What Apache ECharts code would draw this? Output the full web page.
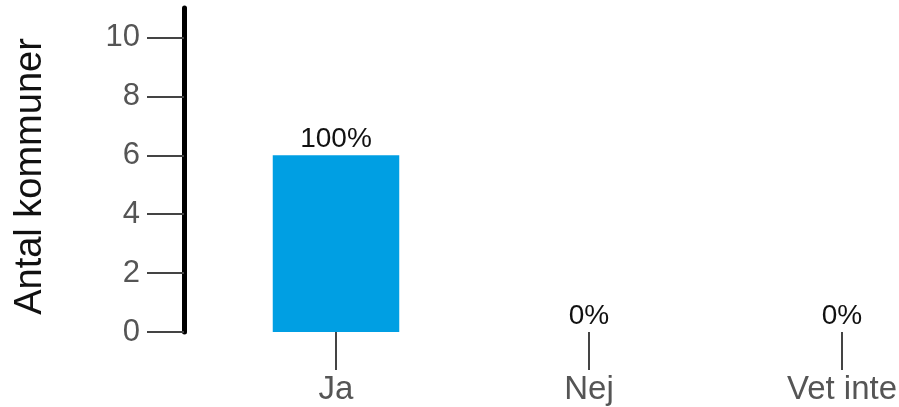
<!DOCTYPE html>
<html>
<head>
<meta charset="utf-8">
<script src="https://cdn.jsdelivr.net/npm/echarts@6/dist/echarts.min.js"></script>
<style>html,body{margin:0;padding:0;background:#fff}#c{width:899px;height:407px}</style>
</head>
<body>
<div id="c"></div>
<script>
const categories = ['Ja', 'Nej', 'Vet inte'];
const counts = [6, 0, 0];
const percentLabels = ['100%', '0%', '0%'];
const yTicks = [0, 2, 4, 6, 8, 10];
const yAxisTitle = 'Antal kommuner';

const chart = echarts.init(document.getElementById('c'), null, {renderer: 'canvas'});
const FONT = 'Liberation Sans, Arial, Helvetica, sans-serif';
chart.setOption({
  animation: false,
  grid: {left: 209.5, width: 759, top: 8, bottom: 75, containLabel: false, outerBoundsMode: 'none'},
  xAxis: {
    type: 'category',
    data: categories,
    axisLine: {show: false},
    axisTick: {show: true, alignWithLabel: true, length: 38, lineStyle: {color: '#444', width: 2}},
    axisLabel: {margin: 41, color: '#555', fontSize: 33, fontFamily: FONT, hideOverlap: false},
    splitLine: {show: false}
  },
  yAxis: {
    type: 'value',
    min: 0, max: 11, interval: 2,
    offset: 25.5,
    name: yAxisTitle,
    nameLocation: 'middle',
    nameGap: 134,
    nameRotate: 90,
    nameTextStyle: {color: '#111', fontSize: 38, fontFamily: FONT, padding: [0, 13, 0, 0]},
    axisLine: {show: true, lineStyle: {color: '#000', width: 5}},
    axisTick: {show: true, length: 37, customValues: yTicks, lineStyle: {color: '#444', width: 2}},
    axisLabel: {margin: 44, color: '#555', fontSize: 31, fontFamily: FONT, customValues: yTicks},
    splitLine: {show: false}
  },
  series: [{
    type: 'bar',
    data: counts,
    barWidth: '50%',
    itemStyle: {color: '#009FE3'},
    label: {
      show: true, position: 'top', distance: 2,
      color: '#111', fontSize: 28, fontFamily: FONT,
      formatter: p => percentLabels[p.dataIndex]
    }
  }]
});
</script>
</body>
</html>
